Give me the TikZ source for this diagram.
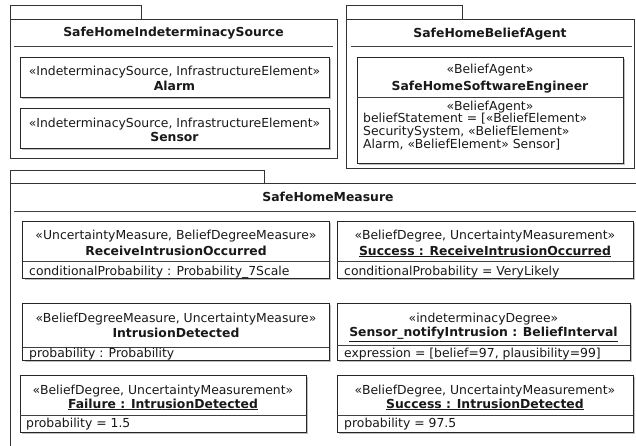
\documentclass[tikz,border=0pt]{standalone}
\usepackage{fontspec}
\setmainfont{DejaVu Sans}
\usetikzlibrary{shadows}

\begin{document}
\begin{tikzpicture}[x=1pt,y=-1pt,
	pkg/.style={draw=black!80,fill=white,line width=1pt},
	cls/.style={draw=black!85,fill=white,line width=1pt,general shadow={fill=black!25,shadow xshift=2pt,shadow yshift=-2pt}},
	sep/.style={draw=black!75,line width=0.9pt},
	txt/.style={inner sep=0pt,anchor=base,text=black!90,font=\fontsize{12.4}{14}\selectfont},
	ttl/.style={txt,font=\fontsize{12.4}{14}\selectfont\bfseries},
	attr/.style={txt,anchor=base west}]
	\useasboundingbox (0, 0) rectangle (636, 445);
	\clip (0, 0) rectangle (636, 445);

	% package SafeHomeIndeterminacySource
	\draw[pkg] (10, 5.7) rectangle (141.6, 19.3);
	\draw[pkg] (10, 19.3) rectangle (337, 158);
	\node[ttl] (srcTitle) at (173.5, 36.5) {SafeHomeIndeterminacySource};
	\draw[sep] (14, 46) -- (333, 46);
	\draw[cls] (20, 57) rectangle (329, 97);
	\node[txt] (alarmSt) at (174.5, 75) {«IndeterminacySource, InfrastructureElement»};
	\node[ttl] (alarmName) at (174.5, 90.5) {Alarm};
	\draw[cls] (20, 108) rectangle (329, 148);
	\node[txt] (sensorSt) at (174.5, 127) {«IndeterminacySource, InfrastructureElement»};
	\node[ttl] (sensorName) at (174.5, 141.5) {Sensor};

	% package SafeHomeBeliefAgent
	\draw[pkg] (346.7, 5.7) rectangle (462.7, 19.3);
	\draw[pkg] (346.7, 19.3) rectangle (634, 168);
	\node[ttl] (agentTitle) at (490, 37.5) {SafeHomeBeliefAgent};
	\draw[sep] (350.7, 46.7) -- (631.7, 46.7);
	\draw[cls] (357, 57) rectangle (623, 163);
	\draw[sep] (357, 97) -- (623, 97);
	\node[txt] (engSt) at (490, 73.5) {«BeliefAgent»};
	\node[ttl] (engName) at (490, 90.5) {SafeHomeSoftwareEngineer};
	\node[txt] (engAttrSt) at (490, 110) {«BeliefAgent»};
	\node[attr] (engAttrA) at (363, 122.5) {beliefStatement = [«BeliefElement»};
	\node[attr] (engAttrB) at (363, 135.5) {SecuritySystem, «BeliefElement»};
	\node[attr] (engAttrC) at (363, 148.5) {Alarm, «BeliefElement» Sensor]};

	% package SafeHomeMeasure
	\draw[pkg] (10, 170) rectangle (264, 183);
	\draw[pkg] (10, 183) rectangle (650, 470);
	\node[ttl] (measTitle) at (328, 201.5) {SafeHomeMeasure};
	\draw[sep] (14, 211) -- (646, 211);

	\draw[cls] (22.7, 221) rectangle (329, 278);
	\draw[sep] (22.7, 261) -- (329, 261);
	\node[txt] (rioSt) at (176, 239.5) {«UncertaintyMeasure, BeliefDegreeMeasure»};
	\node[ttl] (rioName) at (176, 255) {ReceiveIntrusionOccurred};
	\node[attr] (rioAttr) at (29, 275) {conditionalProbability : Probability\_7Scale};

	\draw[cls] (337, 221) rectangle (633, 278);
	\draw[sep] (337, 261.5) -- (633, 261.5);
	\node[txt] (rioOkSt) at (485, 239.5) {«BeliefDegree, UncertaintyMeasurement»};
	\node[ttl] (rioOkName) at (485, 255) {\underline{Success : ReceiveIntrusionOccurred}};
	\node[attr] (rioOkAttr) at (344, 275) {conditionalProbability = VeryLikely};

	\draw[cls] (22.7, 303) rectangle (329, 360);
	\draw[sep] (22.7, 347) -- (329, 347);
	\node[txt] (idSt) at (176, 322) {«BeliefDegreeMeasure, UncertaintyMeasure»};
	\node[ttl] (idName) at (176, 337) {IntrusionDetected};
	\node[attr] (idAttr) at (29, 357.5) {probability : Probability};

	\draw[cls] (337, 303) rectangle (630, 360);
	\draw[sep] (337, 345) -- (630, 345);
	\node[txt] (notifySt) at (483.5, 322) {«indeterminacyDegree»};
	\node[ttl] (notifyName) at (483.5, 336.5) {\underline{Sensor\_notifyIntrusion : BeliefInterval}};
	\node[attr] (notifyAttr) at (344, 357.5) {expression = [belief=97, plausibility=99]};

	\draw[cls] (20, 375) rectangle (306, 432);
	\draw[sep] (20, 415.5) -- (306, 415.5);
	\node[txt] (idFailSt) at (163, 394) {«BeliefDegree, UncertaintyMeasurement»};
	\node[ttl] (idFailName) at (163, 408) {\underline{Failure : IntrusionDetected}};
	\node[attr] (idFailAttr) at (26, 427.5) {probability = 1.5};

	\draw[cls] (337, 375) rectangle (633, 432);
	\draw[sep] (337, 415) -- (633, 415);
	\node[txt] (idOkSt) at (485, 394) {«BeliefDegree, UncertaintyMeasurement»};
	\node[ttl] (idOkName) at (485, 408) {\underline{Success : IntrusionDetected}};
	\node[attr] (idOkAttr) at (344, 427.5) {probability = 97.5};
\end{tikzpicture}
\end{document}
